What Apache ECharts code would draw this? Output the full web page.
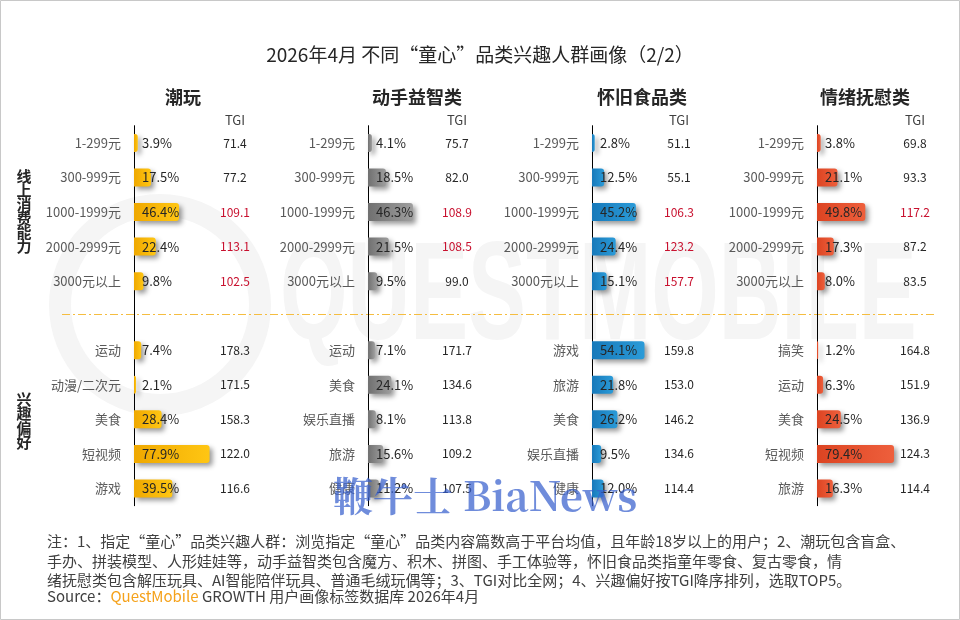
<!DOCTYPE html>
<html>
<head>
<meta charset="utf-8">
<script src="https://cdn.jsdelivr.net/npm/echarts@6/dist/echarts.min.js"></script>
<style>
html, body { margin: 0; padding: 0; background: #fff; }
#chart { width: 960px; height: 620px; }
</style>
</head>
<body>
<div id="chart"></div>
<script>
// 数据
var panelNames = ['潮玩', '动手益智类', '怀旧食品类', '情绪抚慰类'];
var consumeTiers = ['1-299元', '300-999元', '1000-1999元', '2000-2999元', '3000元以上'];
var consumeShare = [
    [3.9, 17.5, 46.4, 22.4, 9.8],
    [4.1, 18.5, 46.3, 21.5, 9.5],
    [2.8, 12.5, 45.2, 24.4, 15.1],
    [3.8, 21.1, 49.8, 17.3, 8.0]
];
var consumeTgi = [
    [71.4, 77.2, 109.1, 113.1, 102.5],
    [75.7, 82.0, 108.9, 108.5, 99.0],
    [51.1, 55.1, 106.3, 123.2, 157.7],
    [69.8, 93.3, 117.2, 87.2, 83.5]
];
var interestCats = [
    ['运动', '动漫/二次元', '美食', '短视频', '游戏'],
    ['运动', '美食', '娱乐直播', '旅游', '健康'],
    ['游戏', '旅游', '美食', '娱乐直播', '健康'],
    ['搞笑', '运动', '美食', '短视频', '旅游']
];
var interestShare = [
    [7.4, 2.1, 28.4, 77.9, 39.5],
    [7.1, 24.1, 8.1, 15.6, 11.2],
    [54.1, 21.8, 26.2, 9.5, 12.0],
    [1.2, 6.3, 24.5, 79.4, 16.3]
];
var interestTgi = [
    [178.3, 171.5, 158.3, 122.0, 116.6],
    [171.7, 134.6, 113.8, 109.2, 107.5],
    [159.8, 153.0, 146.2, 134.6, 114.4],
    [164.8, 151.9, 136.9, 124.3, 114.4]
];

// 布局
var FONT = '"Microsoft YaHei", "Noto Sans CJK SC", sans-serif';
var axisX = [134, 368, 592, 817];
var tgiGap = [101, 89, 87, 98];
var pxPerPct = 0.97;
var barColors = [
    ['#EFA800', '#FFC613'],
    ['#707070', '#9E9E9E'],
    ['#1779BA', '#2B9BD8'],
    ['#DC4422', '#EE5F3C']
];

var grids = [], xAxes = [], yAxes = [], series = [];

for (var i = 0; i < 4; i++) {
    var cats = consumeTiers.concat(['']).concat(interestCats[i]);
    var vals = consumeShare[i].concat([null]).concat(interestShare[i]);
    var tgis = consumeTgi[i].map(function (v) {
        return (v > 100 ? '{r|' : '{b|') + v.toFixed(1) + '}';
    }).concat(['']).concat(interestTgi[i].map(function (v) {
        return '{b|' + v.toFixed(1) + '}';
    }));

    grids.push({
        left: axisX[i], top: 125.7, width: tgiGap[i], height: 380
    });
    xAxes.push({
        gridIndex: i, type: 'value', min: 0, max: tgiGap[i] / pxPerPct, show: false
    });
    yAxes.push({
        gridIndex: i, type: 'category', inverse: true, data: cats,
        axisLine: {show: true, lineStyle: {color: '#000', width: 1}},
        axisTick: {show: false},
        splitLine: {show: false},
        axisLabel: {color: '#595959', fontSize: 13, margin: 13, fontFamily: FONT}
    });
    yAxes.push({
        gridIndex: i, type: 'category', inverse: true, position: 'right', data: tgis,
        name: 'TGI', nameLocation: 'start', nameGap: -1,
        nameTextStyle: {color: '#404040', fontSize: 13, fontFamily: FONT, align: 'center'},
        axisLine: {show: false},
        axisTick: {show: false},
        splitLine: {show: false},
        axisLabel: {
            margin: 0, align: 'center', fontFamily: FONT,
            rich: {
                r: {color: '#C8102E', fontSize: 12, fontFamily: FONT},
                b: {color: '#262626', fontSize: 12, fontFamily: FONT}
            }
        }
    });
    series.push({
        type: 'bar', xAxisIndex: i, yAxisIndex: i * 2, data: vals,
        barWidth: 18,
        itemStyle: {
            borderRadius: [0, 3, 3, 0],
            color: new echarts.graphic.LinearGradient(0, 0, 1, 0, [
                {offset: 0, color: barColors[i][0]},
                {offset: 1, color: barColors[i][1]}
            ]),
            shadowColor: 'rgba(0,0,0,0.4)', shadowBlur: 5,
            shadowOffsetX: 3, shadowOffsetY: 3
        },
        label: {
            show: true, position: 'insideLeft', distance: 8,
            color: '#262626', fontSize: 13, fontFamily: FONT,
            formatter: function (p) {
                return p.value == null ? '' : p.value.toFixed(1) + '%';
            }
        }
    });
}

var graphics = [
    // 背景水印
    {type: 'circle', z: -10, shape: {cx: 160, cy: 305, r: 100},
        style: {fill: 'none', stroke: '#f5f5f5', lineWidth: 22}},
    {type: 'text', z: -10, x: 280, y: 300, scaleX: 0.62,
        style: {text: 'QUESTMOBILE', fill: '#f5f5f5', fontSize: 140, fontWeight: 'bold',
            fontFamily: 'Liberation Sans, sans-serif', verticalAlign: 'middle'}},
    // 分隔线
    {type: 'line', shape: {x1: 62, y1: 314.5, x2: 935, y2: 314.5},
        style: {stroke: '#F5BD40', lineWidth: 1, lineDash: [8, 3, 2, 3]}},
    // 左侧分组
    {type: 'text', x: 24, y: 211,
        style: {text: '线\n上\n消\n费\n能\n力', fill: '#262626', fontSize: 15, fontWeight: 'bold',
            lineHeight: 14, align: 'center', verticalAlign: 'middle', fontFamily: FONT}},
    {type: 'text', x: 24, y: 421,
        style: {text: '兴\n趣\n偏\n好', fill: '#262626', fontSize: 15, fontWeight: 'bold',
            lineHeight: 14.5, align: 'center', verticalAlign: 'middle', fontFamily: FONT}},
    // 注释
    {type: 'text', x: 47, y: 541,
        style: {text: '注：1、指定“童心”品类兴趣人群：浏览指定“童心”品类内容篇数高于平台均值，且年龄18岁以上的用户；2、潮玩包含盲盒、',
            fill: '#404040', fontSize: 15, verticalAlign: 'middle', fontFamily: FONT}},
    {type: 'text', x: 47, y: 561,
        style: {text: '手办、拼装模型、人形娃娃等，动手益智类包含魔方、积木、拼图、手工体验等，怀旧食品类指童年零食、复古零食，情',
            fill: '#404040', fontSize: 15, verticalAlign: 'middle', fontFamily: FONT}},
    {type: 'text', x: 47, y: 580,
        style: {text: '绪抚慰类包含解压玩具、AI智能陪伴玩具、普通毛绒玩偶等；3、TGI对比全网；4、兴趣偏好按TGI降序排列，选取TOP5。',
            fill: '#404040', fontSize: 15, verticalAlign: 'middle', fontFamily: FONT}},
    {type: 'text', x: 47, y: 596,
        style: {text: 'Source：{q|QuestMobile} GROWTH 用户画像标签数据库 2026年4月',
            fill: '#404040', fontSize: 15, verticalAlign: 'middle', fontFamily: FONT,
            rich: {q: {fill: '#F5A21B', fontSize: 15, fontFamily: FONT}}}},
    // 外框
    {type: 'rect', shape: {x: 0.5, y: 0.5, width: 959, height: 619},
        style: {fill: 'none', stroke: '#c8c8c8', lineWidth: 1}},
    // 媒体水印
    {type: 'text', z: 100, x: 333, y: 496,
        style: {text: '鞭牛士 BiaNews', fill: 'rgba(55,95,205,0.72)', fontSize: 40, fontWeight: 'bold',
            fontFamily: '"Noto Serif CJK SC", "DejaVu Serif", serif', verticalAlign: 'middle'}}
];

for (var k = 0; k < 4; k++) {
    graphics.push({
        type: 'text', x: [183, 417, 642, 865][k], y: 97,
        style: {text: panelNames[k], fill: '#262626', fontSize: 18, fontWeight: 'bold',
            align: 'center', verticalAlign: 'middle', fontFamily: FONT}
    });
}

var chart = echarts.init(document.getElementById('chart'));
chart.setOption({
    backgroundColor: '#fff',
    animation: false,
    title: {
        text: '2026年4月 不同“童心”品类兴趣人群画像（2/2）',
        left: 'center', top: 40,
        textStyle: {color: '#262626', fontSize: 19, fontWeight: 'normal', fontFamily: FONT}
    },
    grid: grids,
    xAxis: xAxes,
    yAxis: yAxes,
    series: series,
    graphic: graphics
});
</script>
</body>
</html>
